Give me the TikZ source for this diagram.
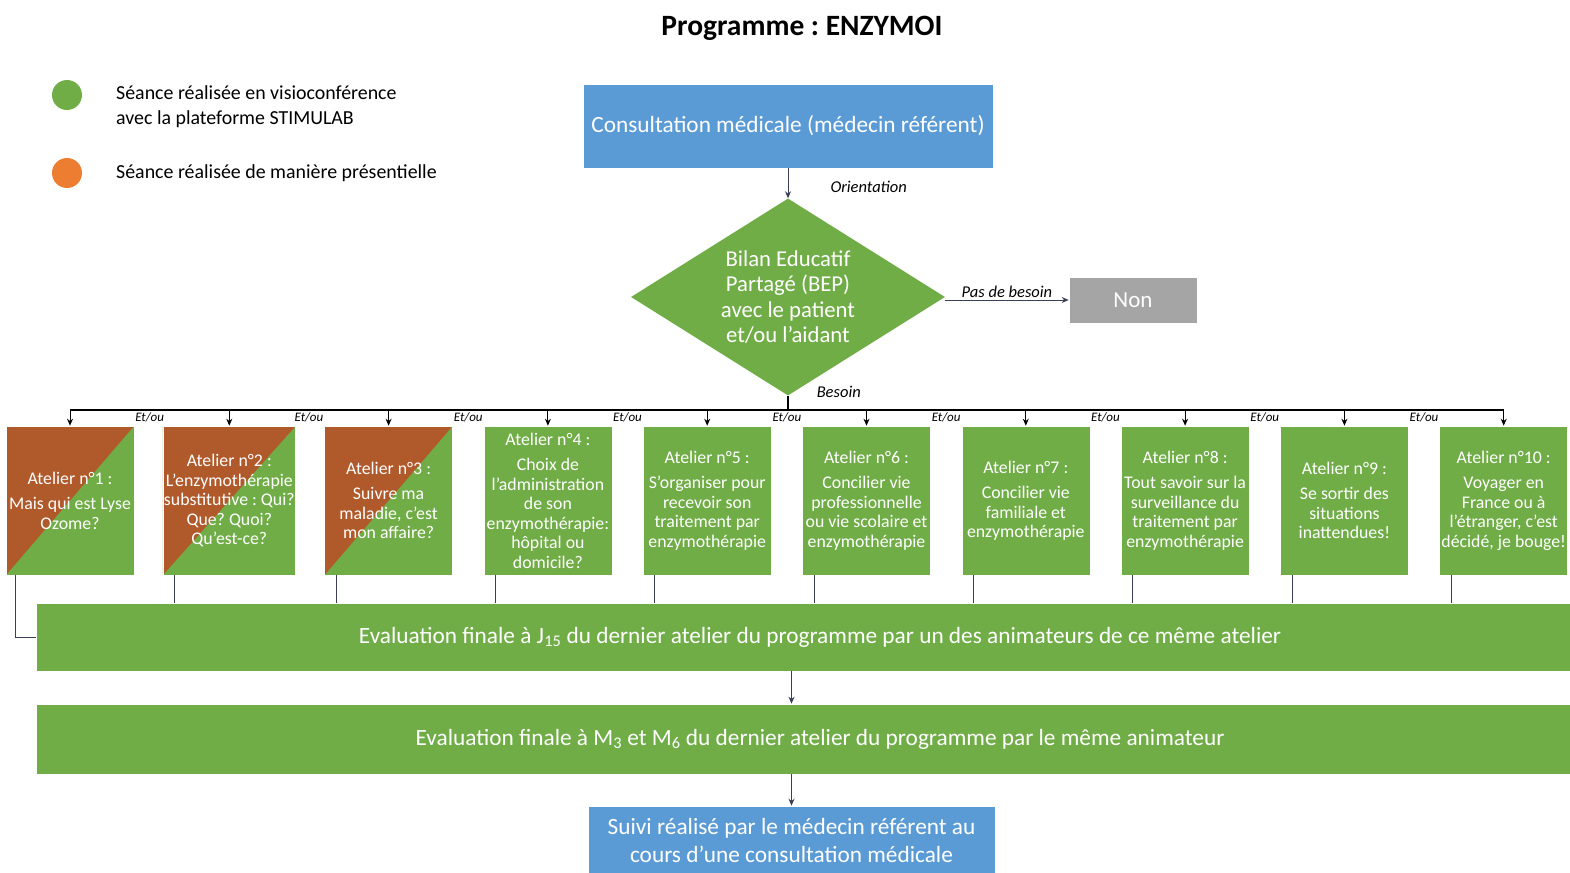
\documentclass[tikz,border=0pt]{standalone}
\usepackage{fontspec}
\setmainfont{Carlito}
\frenchspacing
\usetikzlibrary{shapes.geometric,arrows.meta,calc}

\definecolor{bleu}{HTML}{5B9BD5}
\definecolor{vert}{HTML}{70AD47}
\definecolor{gris}{HTML}{A5A5A5}
\definecolor{brun}{HTML}{B0592A}
\definecolor{orangeleg}{HTML}{ED7D31}
\definecolor{trait}{HTML}{3C3F58}

\begin{document}
\begin{tikzpicture}[x=1pt,y=-1pt,
  box/.style={draw=white, line width=0.6pt, text=white, align=center, inner sep=1pt},
  bleubox/.style={box, fill=bleu, font=\fontsize{23.3}{28}\selectfont},
  evalbar/.style={box, fill=vert, minimum width=1568pt, font=\fontsize{23.3}{26}\selectfont},
  atelier/.style={box, fill=vert, minimum width=128pt, minimum height=149pt,
    font=\fontsize{17.8}{19.5}\selectfont,
    path picture={\ifnum\i<4 \fill[brun] (path picture bounding box.south west)
      -- (path picture bounding box.north west)
      -- (path picture bounding box.north east) -- cycle;\fi}},
  pastille/.style={circle, inner sep=0pt, minimum size=30pt},
  legende/.style={anchor=west, align=left, inner sep=0pt, font=\fontsize{19.9}{25}\selectfont},
  etiq/.style={font=\fontsize{16.5}{18}\selectfont\itshape, inner sep=2pt},
  etou/.style={font=\fontsize{13}{14}\selectfont\itshape, inner sep=0pt},
  lien/.style={draw=trait, line width=1pt},
  fleche/.style={lien, -{Stealth[length=7pt,width=6pt]}},
]
\useasboundingbox (0,0) rectangle (1570,872);

\node[font=\fontsize{29.5}{32}\selectfont\bfseries] (titre) at (802,28) {Programme : ENZYMOI};

% legende
\node[pastille, fill=vert] (pv) at (67,95) {};
\node[pastille, fill=orangeleg] (po) at (67,173) {};
\node[legende] (lv) at (116,106.5) {Séance réalisée en visioconférence\\avec la plateforme STIMULAB};
\node[legende] (lo) at (116,173) {Séance réalisée de manière présentielle};

\node[bleubox, minimum width=410pt, minimum height=84pt] (consult) at (788,126)
  {Consultation médicale (médecin référent)};
\node[diamond, fill=vert, text=white, align=center, inner sep=0pt, aspect=1.594,
  minimum width=314pt, minimum height=197pt, font=\fontsize{22.7}{25.6}\selectfont]
  (bep) at (788,297) {Bilan Educatif\\Partagé (BEP)\\avec le patient\\et/ou l’aidant};
\node[box, fill=gris, minimum width=128pt, minimum height=46pt,
  font=\fontsize{23}{26}\selectfont] (non) at (1133,300) {Non};

\draw[fleche] (consult) -- node[etiq, anchor=west, xshift=40pt, yshift=-4pt] {Orientation} (bep);
\draw[fleche] (bep.east |- non.west) -- node[etiq, above] {Pas de besoin} (non.west);

% ateliers
\foreach \i/\txt in {
  1/{Atelier n°1 :\\[6pt]Mais qui est Lyse\\Ozome?},
  2/{Atelier n°2 :\\L'enzymothérapie\\substitutive : Qui?\\Que? Quoi?\\Qu'est-ce?},
  3/{Atelier n°3 :\\[6pt]Suivre ma\\maladie, c’est\\mon affaire?},
  4/{Atelier n°4 :\\[6pt]Choix de\\l'administration\\de son\\enzymothérapie:\\hôpital ou\\domicile?},
  5/{Atelier n°5 :\\[6pt]S'organiser pour\\recevoir son\\traitement par\\enzymothérapie},
  6/{Atelier n°6 :\\[6pt]Concilier vie\\professionnelle\\ou vie scolaire et\\enzymothérapie},
  7/{Atelier n°7 :\\[6pt]Concilier vie\\familiale et\\enzymothérapie},
  8/{Atelier n°8 :\\[6pt]Tout savoir sur la\\surveillance du\\traitement par\\enzymothérapie},
  9/{Atelier n°9 :\\[6pt]Se sortir des\\situations\\inattendues!},
  10/{Atelier n°10 :\\[6pt]Voyager en\\France ou à\\l'étranger, c'est\\décidé, je bouge!}}
  \node[atelier] (a\i) at ({70+159.3*(\i-1)},500.5) {\txt};

\coordinate (bus) at (788,410);
\draw[line width=1.5pt] (bep.south) -- node[etiq, anchor=west, xshift=26pt, yshift=4pt, pos=0] {Besoin} (bus);
\draw[line width=1.5pt] (a1.north |- bus) -- (a10.north |- bus);
\foreach \i in {1,...,10}
  \draw[fleche, draw=black] (a\i.north |- bus) -- (a\i.north);
\foreach \i [evaluate=\i as \j using int(\i+1)] in {1,...,9}
  \node[etou] (e\i) at ($(a\i.north)!.5!(a\j.north)+(0,-8)$) {Et/ou};

% evaluations
\node[evalbar, minimum height=68pt] (ev1) at (820,637)
  {Evaluation finale à J\textsubscript{15} du dernier atelier du programme par un des animateurs de ce même atelier};
\node[evalbar, minimum height=70pt] (ev2) at (820,739)
  {Evaluation finale à M\textsubscript{3} et M\textsubscript{6} du dernier atelier du programme par le même animateur};
\node[bleubox, minimum width=407pt, minimum height=68pt] (suivi) at (791.5,840)
  {Suivi réalisé par le médecin référent au\\cours d’une consultation médicale};

\draw[lien] ([xshift=10pt]a1.south west) |- (ev1.west);
\foreach \i in {2,...,10}
  \draw[lien] ([xshift=12pt]a\i.south west) -- ([xshift=12pt]a\i.south west |- ev1.north);
\draw[fleche] (suivi.north |- ev1.south) -- (suivi.north |- ev2.north);
\draw[fleche] (suivi.north |- ev2.south) -- (suivi.north);
\end{tikzpicture}
\end{document}
